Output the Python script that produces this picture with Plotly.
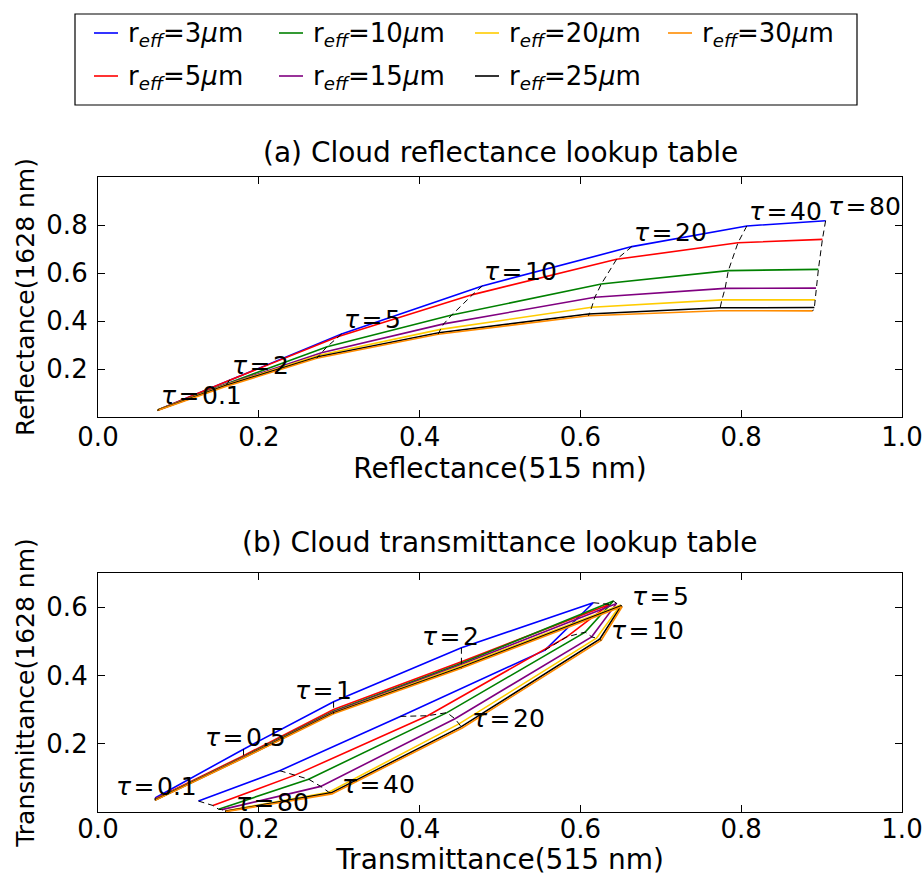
import plotly.graph_objects as go

# ---------------------------------------------------------------------------
# Lookup-table data: one curve per effective radius, one point per optical depth
# ---------------------------------------------------------------------------
radii = [3, 5, 10, 15, 20, 25, 30]
colors = ["#0000ff", "#ff0000", "#008000", "#800080", "#ffcc00", "#000000", "#ff8c00"]

# (a) reflectance table
tau_refl = [0.1, 2, 5, 10, 20, 40, 80]
refl515_r3 = [0.076, 0.164, 0.303, 0.478, 0.664, 0.807, 0.905]
refl1628_r3 = [0.031, 0.154, 0.346, 0.546, 0.710, 0.796, 0.818]
refl515_r5 = [0.076, 0.163, 0.299, 0.466, 0.645, 0.796, 0.901]
refl1628_r5 = [0.031, 0.152, 0.335, 0.510, 0.657, 0.726, 0.740]
refl515_r10 = [0.075, 0.161, 0.285, 0.440, 0.626, 0.784, 0.896]
refl1628_r10 = [0.030, 0.140, 0.293, 0.425, 0.554, 0.610, 0.615]
refl515_r15 = [0.075, 0.160, 0.278, 0.430, 0.618, 0.780, 0.893]
refl1628_r15 = [0.030, 0.136, 0.268, 0.388, 0.499, 0.536, 0.537]
refl515_r20 = [0.074, 0.159, 0.275, 0.426, 0.614, 0.776, 0.892]
refl1628_r20 = [0.029, 0.133, 0.257, 0.365, 0.457, 0.488, 0.488]
refl515_r25 = [0.074, 0.159, 0.274, 0.424, 0.610, 0.774, 0.891]
refl1628_r25 = [0.028, 0.131, 0.251, 0.351, 0.429, 0.455, 0.456]
refl515_r30 = [0.074, 0.158, 0.272, 0.423, 0.610, 0.773, 0.889]
refl1628_r30 = [0.027, 0.126, 0.245, 0.345, 0.422, 0.443, 0.442]

# (b) transmittance table
tau_tran = [0.1, 0.5, 1, 2, 5, 10, 20, 40, 80]
tran515_r3 = [0.071, 0.181, 0.293, 0.452, 0.616, 0.556, 0.376, 0.226, 0.125]
tran1628_r3 = [0.041, 0.184, 0.323, 0.481, 0.613, 0.474, 0.280, 0.121, 0.032]
tran515_r5 = [0.071, 0.181, 0.293, 0.452, 0.636, 0.583, 0.410, 0.245, 0.143]
tran1628_r5 = [0.038, 0.165, 0.300, 0.440, 0.608, 0.513, 0.282, 0.108, 0.019]
tran515_r10 = [0.071, 0.181, 0.293, 0.452, 0.641, 0.606, 0.434, 0.262, 0.150]
tran1628_r10 = [0.036, 0.162, 0.295, 0.436, 0.618, 0.527, 0.291, 0.096, 0.008]
tran515_r15 = [0.071, 0.181, 0.293, 0.452, 0.645, 0.614, 0.444, 0.277, 0.154]
tran1628_r15 = [0.036, 0.161, 0.293, 0.432, 0.611, 0.513, 0.273, 0.075, 0.007]
tran515_r20 = [0.071, 0.181, 0.293, 0.452, 0.650, 0.620, 0.449, 0.287, 0.158]
tran1628_r20 = [0.036, 0.160, 0.291, 0.428, 0.606, 0.509, 0.258, 0.058, 0.003]
tran515_r25 = [0.071, 0.181, 0.293, 0.452, 0.651, 0.624, 0.452, 0.290, 0.158]
tran1628_r25 = [0.035, 0.159, 0.290, 0.424, 0.604, 0.506, 0.250, 0.056, 0.002]
tran515_r30 = [0.071, 0.181, 0.293, 0.452, 0.652, 0.626, 0.453, 0.291, 0.159]
tran1628_r30 = [0.034, 0.158, 0.288, 0.421, 0.602, 0.503, 0.246, 0.053, 0.001]

refl_x = [refl515_r3, refl515_r5, refl515_r10, refl515_r15, refl515_r20, refl515_r25, refl515_r30]
refl_y = [refl1628_r3, refl1628_r5, refl1628_r10, refl1628_r15, refl1628_r20, refl1628_r25, refl1628_r30]
tran_x = [tran515_r3, tran515_r5, tran515_r10, tran515_r15, tran515_r20, tran515_r25, tran515_r30]
tran_y = [tran1628_r3, tran1628_r5, tran1628_r10, tran1628_r15, tran1628_r20, tran1628_r25, tran1628_r30]

x_ticks = [0.0, 0.2, 0.4, 0.6, 0.8, 1.0]
refl_y_ticks = [0.2, 0.4, 0.6, 0.8]
tran_y_ticks = [0.2, 0.4, 0.6]

# optical depths that get a text label in each panel
refl_labelled = [0.1, 2, 5, 10, 20, 40, 80]
tran_upper_labelled = [0.1, 0.5, 1, 2]
tran_lower_labelled = [5, 10, 20, 40, 80]

# ---------------------------------------------------------------------------
# Page geometry
# ---------------------------------------------------------------------------
W, H = 924, 876
ML, MR, MT, MB = 98, 22, 177, 64
PW, PH = W - ML - MR, H - MT - MB


def px_x(p):
    return (p - ML) / PW


def px_y(p):
    return 1 - (p - MT) / PH


FONT = "DejaVu Sans"
TXT = "#000000"

fig = go.Figure()

# curves of constant effective radius
for xs, ys, col in zip(refl_x, refl_y, colors):
    fig.add_trace(go.Scatter(x=xs, y=ys, mode="lines", line=dict(color=col, width=1.6),
                             xaxis="x", yaxis="y", showlegend=False, hoverinfo="skip"))
for xs, ys, col in zip(tran_x, tran_y, colors):
    fig.add_trace(go.Scatter(x=xs, y=ys, mode="lines", line=dict(color=col, width=1.6),
                             xaxis="x2", yaxis="y2", showlegend=False, hoverinfo="skip"))

# dashed lines of constant optical depth
for i in range(len(tau_refl)):
    fig.add_trace(go.Scatter(x=[xs[i] for xs in refl_x], y=[ys[i] for ys in refl_y],
                             mode="lines", line=dict(color="black", width=1, dash="6px,4px"),
                             xaxis="x", yaxis="y", showlegend=False, hoverinfo="skip"))
for i in range(len(tau_tran)):
    fig.add_trace(go.Scatter(x=[xs[i] for xs in tran_x], y=[ys[i] for ys in tran_y],
                             mode="lines", line=dict(color="black", width=1, dash="6px,4px"),
                             xaxis="x2", yaxis="y2", showlegend=False, hoverinfo="skip"))


def tau_text(t):
    return "<i>τ</i>\u200a=\u200a" + f"{t:g}"


annotations = []
LBL = dict(family=FONT, size=25, color=TXT)

# labels on the 3 um curve, reflectance panel
for t in refl_labelled:
    i = tau_refl.index(t)
    annotations.append(dict(x=refl515_r3[i], y=refl1628_r3[i], xref="x", yref="y",
                            text=tau_text(t), showarrow=False, xanchor="left",
                            yanchor="bottom", xshift=0, yshift=-2, font=LBL))
# labels along the rising part of the 3 um curve, transmittance panel
for t in tran_upper_labelled:
    i = tau_tran.index(t)
    annotations.append(dict(x=tran515_r3[i], y=tran1628_r3[i], xref="x2", yref="y2",
                            text=tau_text(t), showarrow=False, xanchor="left",
                            yanchor="bottom", xshift=-41, yshift=-5, font=LBL))
# labels along the falling part of the 30 um curve
for t in tran_lower_labelled:
    i = tau_tran.index(t)
    annotations.append(dict(x=tran515_r30[i], y=tran1628_r30[i], xref="x2", yref="y2",
                            text=tau_text(t), showarrow=False, xanchor="left",
                            yanchor="bottom", xshift=8, yshift=-7, font=LBL))

# panel titles
TITLE = dict(family=FONT, size=28, color=TXT)
annotations.append(dict(x=0.5, y=px_y(171), xref="paper", yref="paper",
                        text="(a) Cloud reflectance lookup table", showarrow=False,
                        xanchor="center", yanchor="bottom", font=TITLE))
annotations.append(dict(x=0.5, y=px_y(561), xref="paper", yref="paper",
                        text="(b) Cloud transmittance lookup table", showarrow=False,
                        xanchor="center", yanchor="bottom", font=TITLE))

# legend box
shapes = [dict(type="rect", xref="paper", yref="paper",
               x0=px_x(75), x1=px_x(857), y0=px_y(105), y1=px_y(14),
               line=dict(color="black", width=1.2), fillcolor="white", layer="above")]
leg_cols = [94, 279, 475, 668]
leg_rows = [33, 76]
# radii run down the columns, four columns wide
leg_slots = [(0, 0), (0, 1), (1, 0), (1, 1), (2, 0), (2, 1), (3, 0)]
for k, (col, row) in enumerate(leg_slots):
    x0 = leg_cols[col]
    y0 = leg_rows[row]
    shapes.append(dict(type="line", xref="paper", yref="paper",
                       x0=px_x(x0), x1=px_x(x0 + 24), y0=px_y(y0), y1=px_y(y0),
                       line=dict(color=colors[k], width=1.6), layer="above"))
    annotations.append(dict(x=px_x(x0 + 32), y=px_y(y0 + 1), xref="paper", yref="paper",
                            text=f"r<sub><i>eff</i></sub>={radii[k]}<i>μ</i>m",
                            showarrow=False, xanchor="left", yanchor="middle",
                            font=dict(family=FONT, size=26, color=TXT)))

axis_common = dict(showline=True, linecolor="black", linewidth=1.2, mirror="allticks",
                   ticks="inside", ticklen=7, tickwidth=1, tickcolor="black",
                   showgrid=False, zeroline=False,
                   tickfont=dict(family=FONT, size=26, color=TXT))
XT = dict(family=FONT, size=28, color=TXT)
YT = dict(family=FONT, size=25, color=TXT)

fig.update_layout(
    width=W, height=H,
    margin=dict(l=ML, r=MR, t=MT, b=MB, autoexpand=False),
    paper_bgcolor="white", plot_bgcolor="white",
    showlegend=False,
    xaxis=dict(domain=[0, 1], anchor="y", range=[0, 1], tickvals=x_ticks, tickformat=".1f",
               ticklabelstandoff=-3,
               title=dict(text="Reflectance(515 nm)", standoff=4, font=XT), **axis_common),
    yaxis=dict(domain=[px_y(417), 1], anchor="x", range=[0, 1], tickvals=refl_y_ticks,
               tickformat=".1f", ticklabelstandoff=4,
               title=dict(text="Reflectance(1628 nm)", standoff=4, font=YT), **axis_common),
    xaxis2=dict(domain=[0, 1], anchor="y2", range=[0, 1], tickvals=x_ticks, tickformat=".1f",
                ticklabelstandoff=-6,
                title=dict(text="Transmittance(515 nm)", standoff=5, font=XT), **axis_common),
    yaxis2=dict(domain=[0, px_y(573)], anchor="x2", range=[0, 0.7], tickvals=tran_y_ticks,
                tickformat=".1f", ticklabelstandoff=4,
                title=dict(text="Transmittance(1628 nm)", standoff=4, font=YT), **axis_common),
    annotations=annotations,
    shapes=shapes,
)

fig.write_html("out.html")
